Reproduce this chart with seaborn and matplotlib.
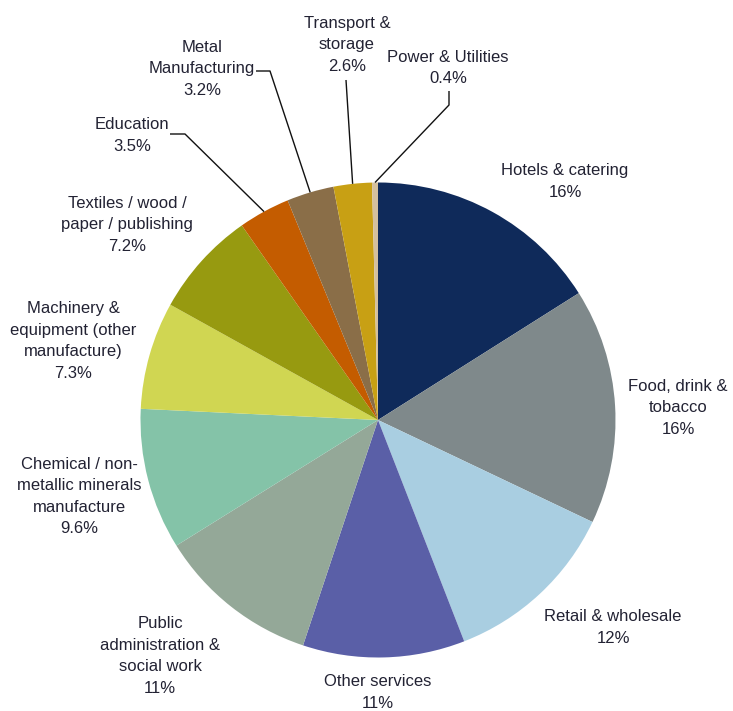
import numpy as np
import matplotlib
matplotlib.use("Agg")
import matplotlib.pyplot as plt
import seaborn as sns

categories = ["Hotels & catering", "Food, drink &\ntobacco", "Retail & wholesale",
              "Other services", "Public\nadministration &\nsocial work",
              "Chemical / non-\nmetallic minerals\nmanufacture",
              "Machinery &\nequipment (other\nmanufacture)",
              "Textiles / wood /\npaper / publishing", "Education",
              "Metal\nManufacturing", "Transport &\nstorage", "Power & Utilities"]
values = [16, 16, 12, 11, 11, 9.6, 7.3, 7.2, 3.5, 3.2, 2.6, 0.4]
pct_labels = ["16%", "16%", "12%", "11%", "11%", "9.6%", "7.3%", "7.2%",
              "3.5%", "3.2%", "2.6%", "0.4%"]
colors = ["#0f2a5a", "#7f898b", "#a9cee1", "#5a5fa7", "#94a898", "#84c3a8",
          "#d0d652", "#979a10", "#c45c00", "#8a6e48", "#c8a014", "#d4c09e"]

sns.set_theme(style="white")
plt.rcParams['font.family'] = ['Liberation Sans', 'DejaVu Sans']

W, H = 733, 711
fig = plt.figure(figsize=(W / 100, H / 100), dpi=100)
ax = fig.add_axes([0, 0, 1, 1])

cx, cy, R = 378, H - 420, 237.5
wedges, _ = ax.pie(values, colors=colors, startangle=90, counterclock=False,
                   center=(cx, cy), radius=R,
                   wedgeprops=dict(linewidth=0, edgecolor="none"))
ax.set_xlim(0, W)
ax.set_ylim(0, H)
ax.set_aspect("equal")
ax.axis("off")

# label centres (pixel layout, y from top)
label_pos = [(565, 181.5), (678, 408), (613, 627.5), (378, 692.5), (160, 656),
             (79, 496.5), (73, 341), (127, 225), (132, 135.5), (202, 69),
             (347, 45), (448, 68)]
for cat, pct, (x, y) in zip(categories, pct_labels, label_pos):
    ax.text(x, H - y, f"{cat}\n{pct}", ha="center", va="center",
            fontsize=12, color="#222233", linespacing=1.55)

def wedge_mid(w):
    a = np.deg2rad((w.theta1 + w.theta2) / 2)
    return cx + R * np.cos(a), cy + R * np.sin(a)

# leader lines: index -> polyline start points (pixel layout, y from top)
leaders = {8: [(170, 134), (185, 134)],
           9: [(256, 71), (270, 71)],
           10: [(346, 80)],
           11: [(449, 91), (449, 105)]}
for i, pts in leaders.items():
    mx, my = wedge_mid(wedges[i])
    xs = [p[0] for p in pts] + [mx]
    ys = [H - p[1] for p in pts] + [my]
    ax.plot(xs, ys, color="#111111", lw=1.0, solid_capstyle="butt")

fig.savefig("out.png", dpi=100, facecolor="white")
